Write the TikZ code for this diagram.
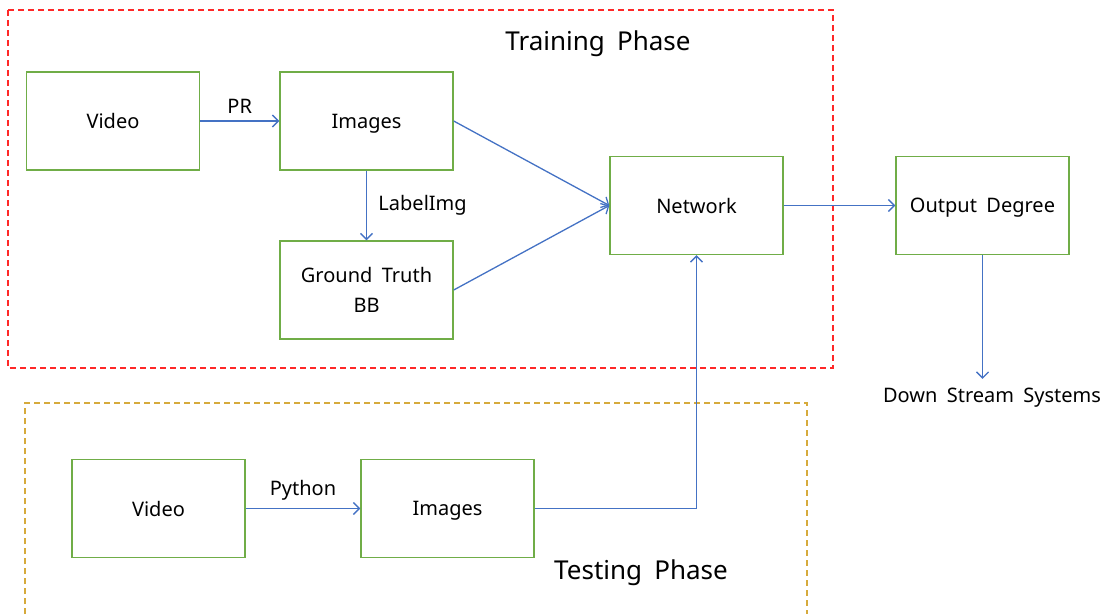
\documentclass[tikz,border=0pt]{standalone}
\usepackage{fontspec}
\setmainfont{Noto Sans}[WordSpace=1.8]
\usetikzlibrary{arrows.meta}

\definecolor{boxgreen}{RGB}{112,173,71}
\definecolor{arrblue}{RGB}{68,114,196}
\definecolor{trainred}{RGB}{255,40,40}
\definecolor{testgold}{RGB}{214,170,60}

\begin{document}
\begin{tikzpicture}[x=1pt, y=-1pt,
	box/.style={draw=boxgreen, line width=1.4pt, minimum width=173pt, minimum height=98pt, inner sep=0pt, align=center, text depth=0pt, font=\fontsize{20}{30}\selectfont},
	arr/.style={draw=arrblue, line width=1.3pt, -{Straight Barb[length=6pt,width=12pt]}},
	lbl/.style={font=\fontsize{20}{24}\selectfont},
	phase/.style={font=\fontsize{26}{32}\selectfont}]
	\useasboundingbox (0,0) rectangle (1107,614);
	% training phase
	\draw[trainred, line width=1.3pt, dash pattern=on 6pt off 4pt] (8,10) rectangle (833,368);
	\node[phase] (train) at (598,44) {Training Phase};
	\node[box] (vid1) at (113,121) {Video};
	\node[box] (img1) at (366.5,121) {Images};
	\node[box] (gt) at (366.5,290) {Ground Truth\\BB};
	\node[box] (net) at (696.5,205.5) {Network};
	\node[box] (out) at (982.5,205.5) {Output Degree};
	\node[lbl] (ds) at (992,398) {Down Stream Systems};
	\draw[arr] (vid1) -- node[lbl, above=4pt] (pr) {PR} (img1);
	\draw[arr] (img1) -- node[lbl, right=8pt] (lblimg) {LabelImg} (gt);
	\draw[arr] (img1.east) -- (net.west);
	\draw[arr] (gt.east) -- (net.west);
	\draw[arr] (net) -- (out);
	\draw[arr] (out.south) -- ([yshift=6pt]out.south |- ds.north);
	% testing phase
	\draw[testgold, line width=1.3pt, dash pattern=on 6pt off 4pt] (25,614) -- (25,403) -- (807,403) -- (807,614);
	\node[phase] (test) at (641,573) {Testing Phase};
	\node[box] (vid2) at (158.5,508.5) {Video};
	\node[box] (img2) at (447.5,508.5) {Images};
	\draw[arr] (vid2) -- node[lbl, above=4pt] (py) {Python} (img2);
	\draw[arr] (img2.east) -| (net.south);
\end{tikzpicture}
\end{document}
